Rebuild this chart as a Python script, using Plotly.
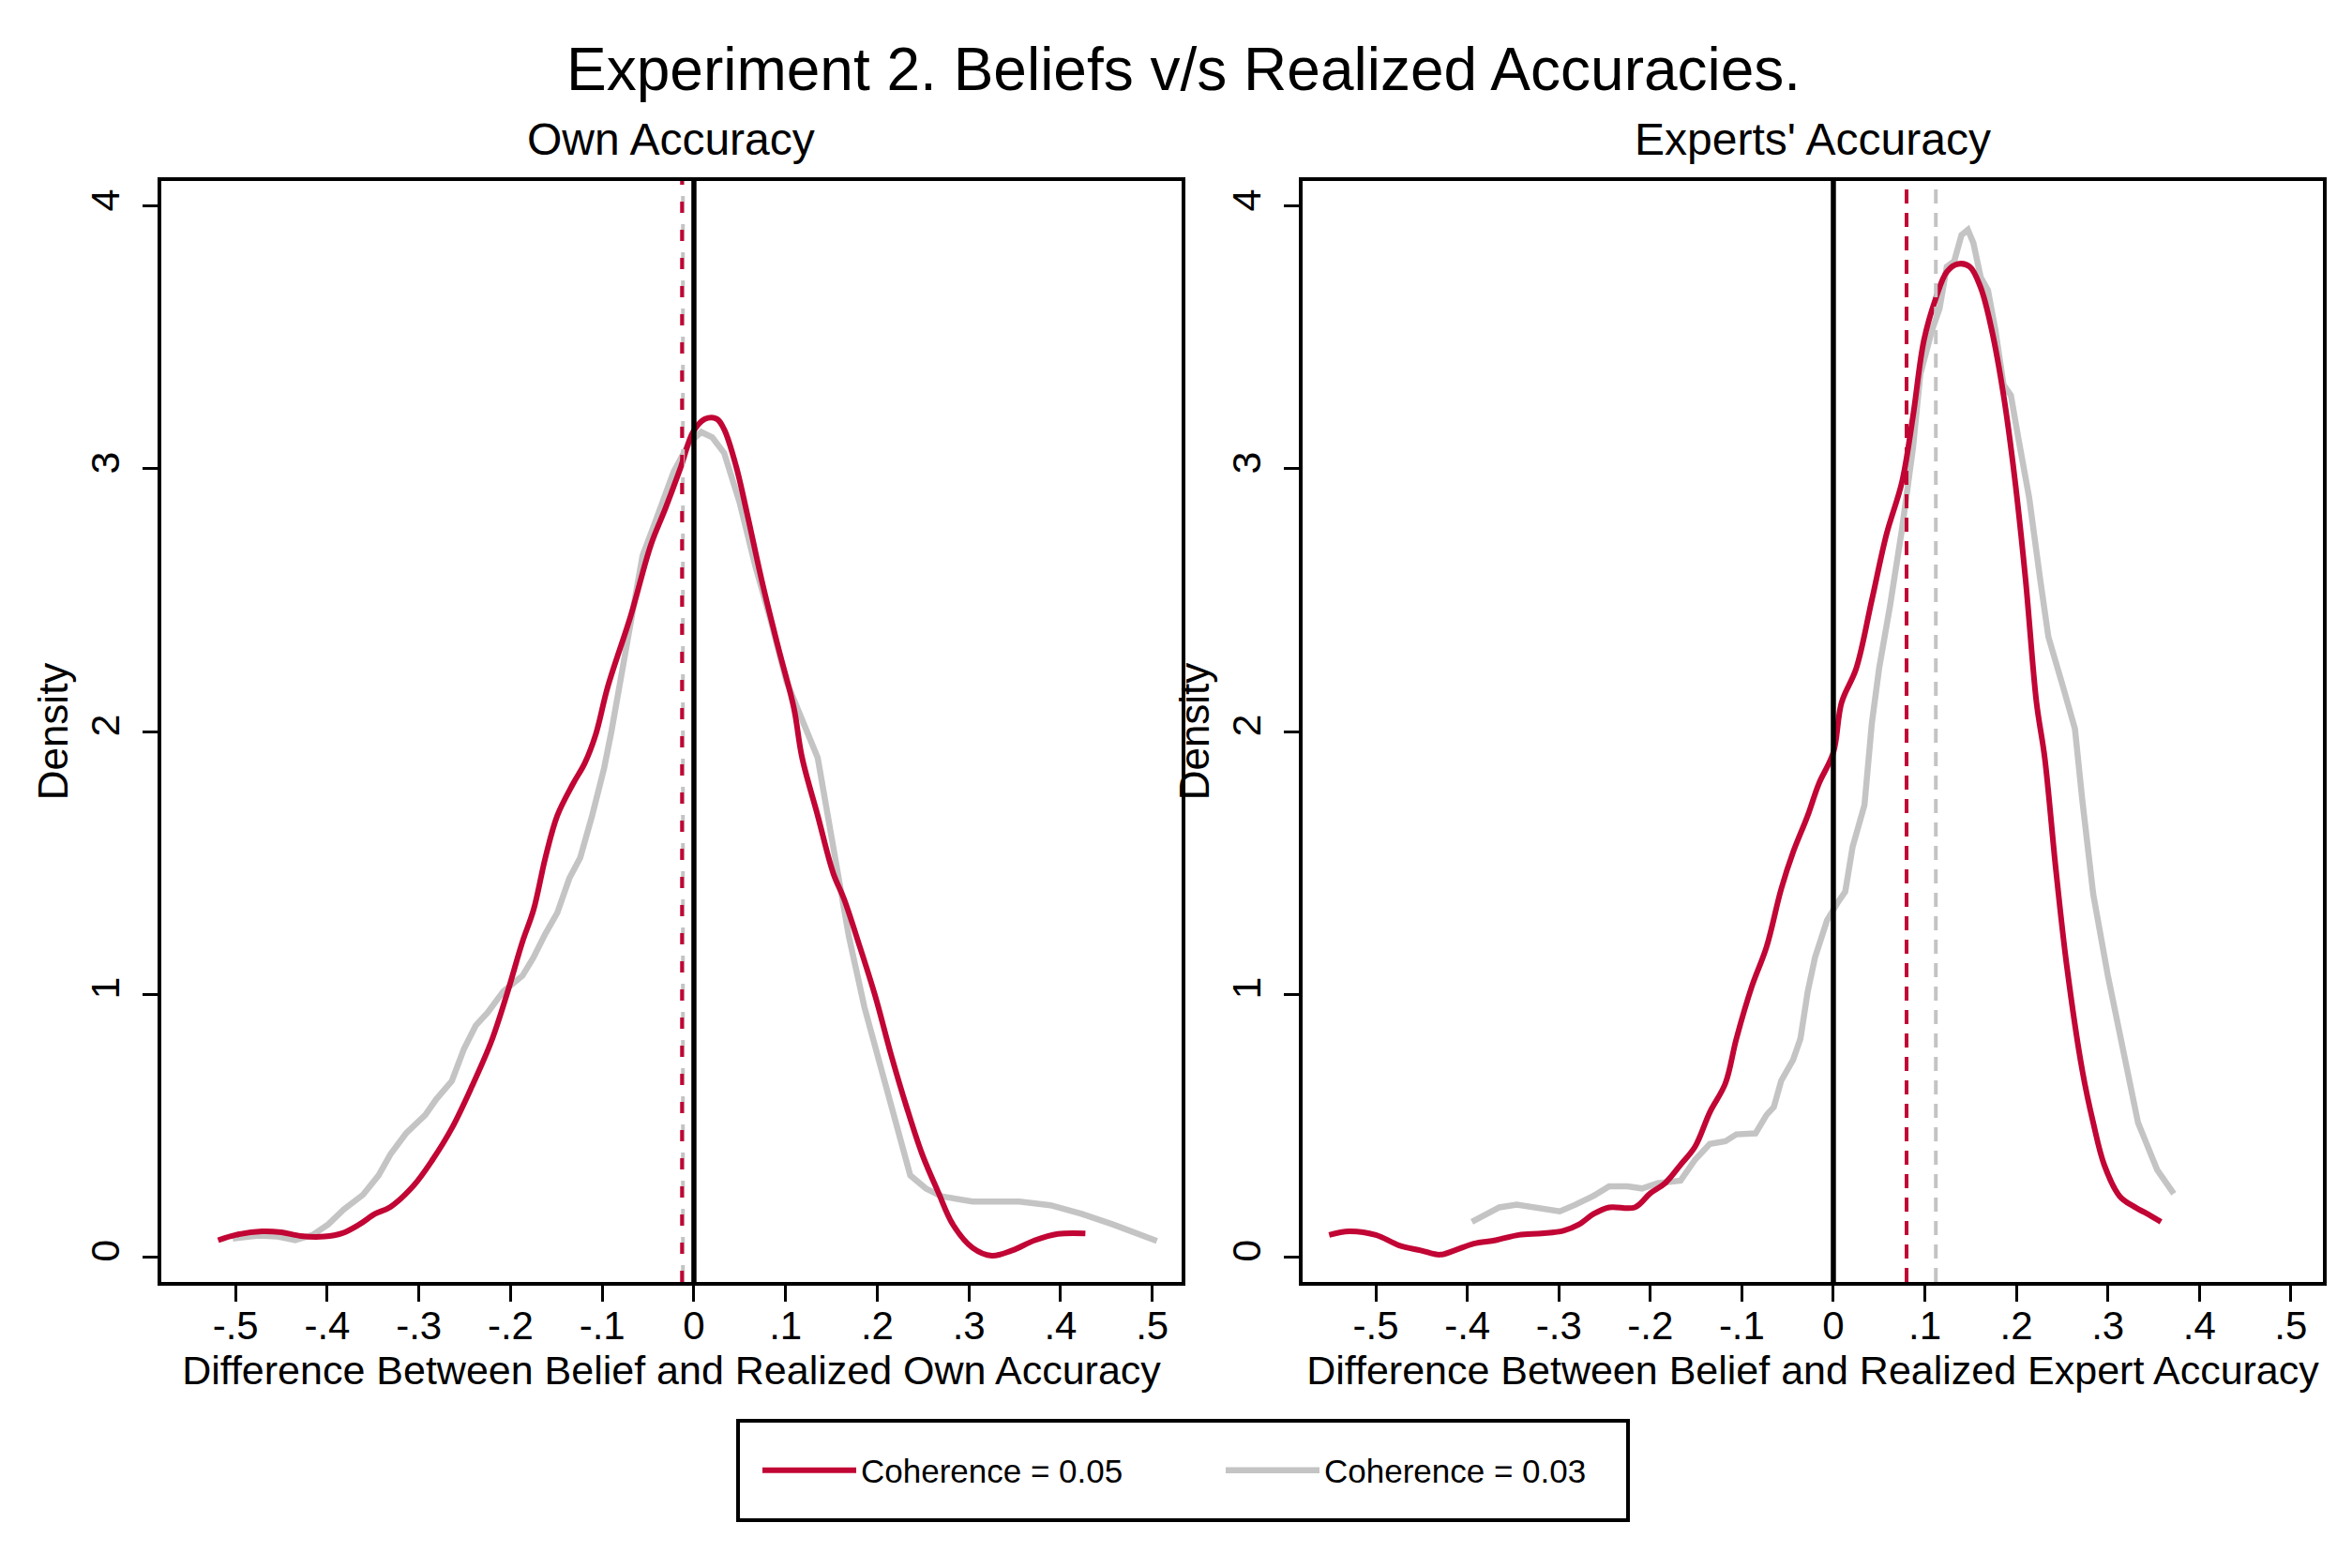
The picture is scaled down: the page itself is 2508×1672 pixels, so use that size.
import plotly.graph_objects as go

# ---------------- data ----------------
own_red_x = [-0.519, -0.50, -0.471, -0.45, -0.429, -0.403, -0.384, -0.365, -0.348, -0.331, -0.306, -0.285,
             -0.264, -0.242, -0.221, -0.204, -0.187, -0.175, -0.162, -0.149, -0.132, -0.119, -0.107, -0.094,
             -0.069, -0.047, -0.031, -0.014, -0.001, 0.012, 0.025, 0.033, 0.046, 0.058, 0.075, 0.092, 0.109,
             0.118, 0.135, 0.152, 0.164, 0.181, 0.198, 0.215, 0.232, 0.249, 0.266, 0.283, 0.304, 0.325,
             0.347, 0.372, 0.397, 0.427]
own_red_y = [0.063, 0.083, 0.097, 0.093, 0.079, 0.077, 0.089, 0.123, 0.163, 0.19, 0.27, 0.37,
             0.49, 0.65, 0.82, 1.0, 1.20, 1.32, 1.52, 1.68, 1.80, 1.88, 1.99, 2.17,
             2.44, 2.71, 2.85, 3.01, 3.14, 3.19, 3.19, 3.15, 3.01, 2.83, 2.56, 2.32, 2.09,
             1.90, 1.68, 1.46, 1.36, 1.18, 0.99, 0.77, 0.57, 0.39, 0.25, 0.12, 0.034, 0.004,
             0.024, 0.063, 0.087, 0.089]

own_gray_x = [-0.503, -0.475, -0.454, -0.435, -0.416, -0.399, -0.382, -0.361, -0.344, -0.331, -0.314, -0.293,
              -0.281, -0.264, -0.251, -0.238, -0.225, -0.208, -0.187, -0.175, -0.162, -0.149, -0.136, -0.124,
              -0.111, -0.098, -0.090, -0.077, -0.069, -0.056, -0.043, -0.022, -0.005, 0.008, 0.020, 0.033,
              0.050, 0.067, 0.084, 0.101, 0.135, 0.152, 0.169, 0.186, 0.203, 0.219, 0.236, 0.253, 0.270,
              0.304, 0.355, 0.389, 0.423, 0.457, 0.482, 0.505]
own_gray_y = [0.069, 0.081, 0.077, 0.063, 0.083, 0.123, 0.18, 0.236, 0.31, 0.39, 0.47, 0.54,
              0.60, 0.67, 0.79, 0.88, 0.93, 1.01, 1.07, 1.14, 1.23, 1.31, 1.44, 1.52,
              1.68, 1.86, 2.0, 2.26, 2.42, 2.67, 2.79, 2.99, 3.10, 3.14, 3.12, 3.06,
              2.87, 2.63, 2.42, 2.19, 1.90, 1.56, 1.22, 0.95, 0.73, 0.51, 0.31, 0.26, 0.23,
              0.21, 0.21, 0.196, 0.163, 0.123, 0.093, 0.06]

exp_red_x = [-0.551, -0.529, -0.5, -0.475, -0.451, -0.430, -0.414, -0.393, -0.369, -0.344, -0.319, -0.295,
             -0.278, -0.262, -0.245, -0.217, -0.200, -0.184, -0.167, -0.151, -0.135, -0.118, -0.106, -0.089,
             -0.073, -0.057, -0.044, -0.028, -0.016, 0.0, 0.009, 0.025, 0.042, 0.058, 0.075, 0.087, 0.099,
             0.112, 0.124, 0.136, 0.149, 0.161, 0.173, 0.186, 0.198, 0.210, 0.222, 0.231, 0.243, 0.255,
             0.272, 0.284, 0.296, 0.313, 0.329, 0.345, 0.358]
exp_red_y = [0.083, 0.097, 0.083, 0.044, 0.024, 0.008, 0.024, 0.05, 0.063, 0.083, 0.089, 0.099,
             0.123, 0.163, 0.188, 0.188, 0.242, 0.28, 0.35, 0.42, 0.55, 0.66, 0.83, 1.03,
             1.18, 1.40, 1.54, 1.68, 1.80, 1.92, 2.11, 2.24, 2.50, 2.75, 2.95, 3.20, 3.49,
             3.65, 3.75, 3.78, 3.77, 3.69, 3.53, 3.28, 2.97, 2.58, 2.11, 1.90, 1.48, 1.11,
             0.71, 0.51, 0.35, 0.23, 0.19, 0.16, 0.133]

exp_gray_x = [-0.395, -0.381, -0.365, -0.346, -0.328, -0.299, -0.282, -0.262, -0.245, -0.225, -0.209, -0.192,
              -0.167, -0.151, -0.135, -0.118, -0.106, -0.085, -0.073, -0.065, -0.057, -0.044, -0.036, -0.028,
              -0.020, -0.007, 0.005, 0.013, 0.021, 0.034, 0.042, 0.050, 0.062, 0.075, 0.087, 0.095, 0.108,
              0.116, 0.124, 0.132, 0.140, 0.147, 0.153, 0.161, 0.169, 0.177, 0.186, 0.194, 0.202, 0.214,
              0.226, 0.235, 0.251, 0.264, 0.272, 0.284, 0.300, 0.317, 0.333, 0.354, 0.372]
exp_gray_y = [0.133, 0.157, 0.188, 0.198, 0.187, 0.173, 0.198, 0.232, 0.268, 0.268, 0.26, 0.28,
              0.29, 0.37, 0.43, 0.44, 0.466, 0.47, 0.54, 0.57, 0.67, 0.75, 0.83, 1.01,
              1.14, 1.28, 1.35, 1.39, 1.56, 1.72, 2.03, 2.24, 2.48, 2.77, 3.08, 3.36, 3.53,
              3.61, 3.77, 3.79, 3.89, 3.91, 3.86, 3.73, 3.68, 3.53, 3.32, 3.28, 3.12, 2.89,
              2.58, 2.36, 2.17, 2.01, 1.74, 1.38, 1.07, 0.77, 0.51, 0.33, 0.24]

# means (dashed lines)
own_mean_red, own_mean_gray = -0.013, -0.012
exp_mean_red, exp_mean_gray = 0.080, 0.112

series_names = ["Coherence = 0.05", "Coherence = 0.03"]
x_tick_vals = [-0.5, -0.4, -0.3, -0.2, -0.1, 0, 0.1, 0.2, 0.3, 0.4, 0.5]
x_tick_text = ["-.5", "-.4", "-.3", "-.2", "-.1", "0", ".1", ".2", ".3", ".4", ".5"]
y_tick_vals = [0, 1, 2, 3, 4]
y_tick_text = ["0", "1", "2", "3", "4"]

main_title = "Experiment 2. Beliefs v/s Realized Accuracies."
panel_titles = ["Own Accuracy", "Experts' Accuracy"]
x_titles = ["Difference Between Belief and Realized Own Accuracy",
            "Difference Between Belief and Realized Expert Accuracy"]

# ---------------- style ----------------
RED = "#c10534"
GRAY = "#c4c4c4"
FONT = "Liberation Sans"
W, H = 2508, 1672

fig = go.Figure()

fig.add_trace(go.Scatter(x=own_gray_x, y=own_gray_y, mode="lines", line=dict(color=GRAY, width=6.5),
                         name=series_names[1], showlegend=False, xaxis="x", yaxis="y"))
fig.add_trace(go.Scatter(x=own_red_x, y=own_red_y, mode="lines", line=dict(color=RED, width=6, shape="spline"),
                         name=series_names[0], legendrank=1, xaxis="x", yaxis="y"))
fig.add_trace(go.Scatter(x=exp_gray_x, y=exp_gray_y, mode="lines", line=dict(color=GRAY, width=6.5),
                         name=series_names[1], legendrank=2, xaxis="x2", yaxis="y2"))
fig.add_trace(go.Scatter(x=exp_red_x, y=exp_red_y, mode="lines", line=dict(color=RED, width=6, shape="spline"),
                         name=series_names[0], showlegend=False, xaxis="x2", yaxis="y2"))

def vline(xv, xref, yref, color, dash, width):
    fig.add_shape(type="line", xref=xref, yref=yref, x0=xv, x1=xv, y0=0, y1=1,
                  line=dict(color=color, dash=dash, width=width), layer="above")

vline(own_mean_gray, "x", "y domain", GRAY, "18px,12px", 4)
vline(own_mean_red, "x", "y domain", RED, "12px,18px", 4)
vline(0, "x", "y domain", "black", "solid", 5.5)
vline(exp_mean_red, "x2", "y2 domain", RED, "15px,10px", 4)
vline(exp_mean_gray, "x2", "y2 domain", GRAY, "15px,10px", 4)
vline(0, "x2", "y2 domain", "black", "solid", 5.5)

# legend border box
fig.add_shape(type="rect", xref="paper", yref="paper",
              x0=779 / W, x1=1728 / W, y0=1 - 1613 / H, y1=1 - 1507 / H,
              line=dict(color="black", width=4), fillcolor="rgba(0,0,0,0)")

ydom = [1 - 1359 / H, 1 - 185 / H]

def xaxis_cfg(dom, rng, title, anchor):
    return dict(domain=dom, range=rng, anchor=anchor, showgrid=False, zeroline=False,
                showline=True, linecolor="black", linewidth=4, mirror=True,
                ticks="outside", ticklen=17, tickwidth=3, tickcolor="black",
                tickvals=x_tick_vals, ticktext=x_tick_text, ticklabelstandoff=-10,
                tickfont=dict(family=FONT, size=42, color="black"),
                title=dict(text=title, font=dict(family=FONT, size=43, color="black"), standoff=0))

def yaxis_cfg(anchor):
    return dict(domain=ydom, range=[-0.096, 4.096], anchor=anchor, showgrid=False, zeroline=False,
                showline=True, linecolor="black", linewidth=4, mirror=True,
                ticks="outside", ticklen=16, tickwidth=3, tickcolor="black",
                tickvals=y_tick_vals, ticktext=y_tick_text, tickangle=-90,
                tickfont=dict(family=FONT, size=43, color="black"), ticklabelstandoff=8,
                title=dict(text="Density", font=dict(family=FONT, size=44, color="black"), standoff=2))

fig.update_layout(
    width=W, height=H,
    margin=dict(l=0, r=0, t=0, b=0),
    paper_bgcolor="white", plot_bgcolor="white",
    font=dict(family=FONT, color="black"),
    xaxis=xaxis_cfg([164 / W, 1252 / W], [-0.581, 0.532], x_titles[0], "y"),
    yaxis=yaxis_cfg("x"),
    xaxis2=xaxis_cfg([1381 / W, 2469 / W], [-0.58, 0.535], x_titles[1], "y2"),
    yaxis2=yaxis_cfg("x2"),
    legend=dict(orientation="h", x=800 / W, xanchor="left", y=1 - 1560 / H, yanchor="middle",
                bgcolor="rgba(0,0,0,0)", borderwidth=0,
                font=dict(family=FONT, size=35, color="black"),
                itemwidth=100, entrywidth=379, entrywidthmode="pixels",
                traceorder="normal"),
    annotations=[
        dict(text=main_title, x=0.5, y=1 - 66 / H, xref="paper", yref="paper", showarrow=False,
             xanchor="center", yanchor="middle", font=dict(family=FONT, size=64, color="black")),
        dict(text=panel_titles[0], x=(164 + 1252) / 2 / W, y=1 - 141 / H, xref="paper", yref="paper",
             showarrow=False, xanchor="center", yanchor="middle", font=dict(family=FONT, size=48, color="black")),
        dict(text=panel_titles[1], x=(1381 + 2469) / 2 / W, y=1 - 141 / H, xref="paper", yref="paper",
             showarrow=False, xanchor="center", yanchor="middle", font=dict(family=FONT, size=48, color="black")),
    ],
)

fig.write_html("out.html")
